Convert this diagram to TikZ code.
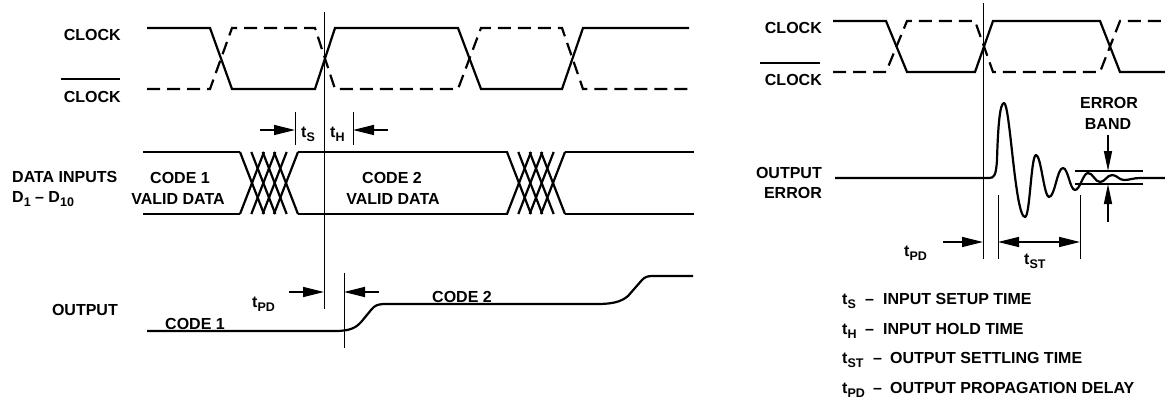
\documentclass[tikz,border=0pt]{standalone}
\usepackage{fontspec}
\setmainfont{Liberation Sans}
\usetikzlibrary{arrows.meta}
\newcommand{\sbs}[1]{\raisebox{-0.3em}{\fontsize{12.5}{12.5}\selectfont #1}}
\begin{document}
\begin{tikzpicture}[x=1pt,y=-1pt,
  lbl/.style={font=\fontsize{16}{18}\selectfont\bfseries, inner sep=0pt},
  wave/.style={line width=2.2pt, line join=miter},
  dwave/.style={wave, dash pattern=on 13pt off 7pt},
  hatch/.style={line width=2.2pt},
  thinline/.style={line width=1pt},
  dimarrow/.style={line width=1.6pt, -{Triangle[length=21pt,width=10pt]}},
  dimboth/.style={line width=1.6pt, {Triangle[length=21pt,width=10pt]}-{Triangle[length=21pt,width=10pt]}},
  bandarrow/.style={line width=1.4pt, -{Triangle[length=20pt,width=8pt]}}]
\useasboundingbox (0,0) rectangle (1165,400);

% ---------------- LEFT PANEL ----------------
\node[lbl, anchor=east] (clkL) at (121,35) {CLOCK};
\node[lbl, anchor=east] (clkbL) at (121,97) {CLOCK};
\draw[line width=1.6pt] (61,79) -- (120,79);
\node[lbl, anchor=west] (dataL) at (12,177) {DATA INPUTS};
\node[lbl, anchor=west] (dL) at (12,199) {D\sbs{1} -- D\sbs{10}};
\node[lbl, anchor=east] (outL) at (118,310) {OUTPUT};

% clock waveforms
\draw[wave] (147,28) -- (210,28) -- (232,89) -- (315,89) -- (335,28) -- (458,28) -- (481,89) -- (562,89) -- (583,28) -- (689,28);
\draw[dwave] (147,89) -- (210,89) -- (232,28) -- (315,28) -- (335,89) -- (458,89) -- (481,28) -- (562,28) -- (583,89) -- (689,89);

% data inputs
\draw[wave] (143,152) -- (240,152);
\draw[wave] (143,214) -- (240,214);
\draw[wave] (298,152) -- (508,152);
\draw[wave] (298,214) -- (508,214);
\draw[wave] (565,152) -- (694,152);
\draw[wave] (565,214) -- (694,214);
\foreach \s in {240,507}{
  \foreach \i in {0,...,3}{
    \draw[hatch] ({\s+\i*11.33},152) -- ++(24,62);
    \draw[hatch] ({\s+\i*11.33},214) -- ++(24,-62);
  }
}
\node[lbl] (c1) at (180,178) {CODE 1};
\node[lbl] (v1) at (178,199) {VALID DATA};
\node[lbl] (c2) at (392,178) {CODE 2};
\node[lbl] (v2) at (393,199) {VALID DATA};

% reference lines
\coordinate (refTop) at (324,12);
\coordinate (refBot) at (324,309);
\draw[thinline] (refTop) -- (refBot);
\coordinate (pdTop) at (344,273);
\coordinate (pdBot) at (344,348);
\draw[thinline] (pdTop) -- (pdBot);

% ts / tH
\coordinate (tsTickT) at (295,112);
\coordinate (tsTickB) at (295,145);
\coordinate (thTickT) at (353,112);
\coordinate (thTickB) at (353,145);
\draw[thinline] (tsTickT) -- (tsTickB);
\draw[thinline] (thTickT) -- (thTickB);
\coordinate (tsA) at (260,130);
\coordinate (tsB) at (295,130);
\coordinate (thA) at (388,130);
\coordinate (thB) at (353,130);
\draw[dimarrow] (tsA) -- (tsB);
\draw[dimarrow] (thA) -- (thB);
\node[lbl, anchor=base west] (tsL) at (301,137) {t\sbs{S}};
\node[lbl, anchor=base west] (thL) at (330,137) {t\sbs{H}};

% output
\draw[wave, line join=round] (147,331) -- (335,331) .. controls (350,331) and (356,328) .. (362,321) -- (371,310) .. controls (375,305) and (378,304) .. (386,304) -- (597,304) .. controls (612,304) and (621,302) .. (628,296) -- (642,280) .. controls (645,277) and (647,276) .. (653,276) -- (693,276);
\node[lbl] (oc1) at (195,324) {CODE 1};
\node[lbl] (oc2) at (462,297) {CODE 2};
\coordinate (pdA) at (289,292);
\coordinate (pdB) at (324,292);
\coordinate (pdC) at (379,292);
\coordinate (pdD) at (344,292);
\draw[dimarrow] (pdA) -- (pdB);
\draw[dimarrow] (pdC) -- (pdD);
\node[lbl, anchor=base west] (tpdL) at (252,307) {t\sbs{PD}};

% ---------------- RIGHT PANEL ----------------
\node[lbl, anchor=east] (clkR) at (822,28) {CLOCK};
\node[lbl, anchor=east] (clkbR) at (822,80) {CLOCK};
\draw[line width=1.6pt] (760,63) -- (820,63);
\node[lbl, anchor=east] (oeR1) at (822,173) {OUTPUT};
\node[lbl, anchor=east] (oeR2) at (822,193) {ERROR};

\draw[wave] (833,21) -- (886,21) -- (907,72) -- (975,72) -- (993,21) -- (1100,21) -- (1120,72) -- (1166,72);
\draw[dwave] (833,72) -- (886,72) -- (907,21) -- (975,21) -- (993,72) -- (1100,72) -- (1120,21) -- (1166,21);

\coordinate (rrefTop) at (983,3);
\coordinate (rrefBot) at (983,259);
\draw[thinline] (rrefTop) -- (rrefBot);

% output error waveform
\draw[wave, line join=round] (835,178) -- (989,178) .. controls (994,178) and (996,176) .. (997,160)
  .. controls (998,125) and (1000,103) .. (1004,103)
  .. controls (1010,103) and (1015,217) .. (1025,217)
  .. controls (1030,217) and (1031,155) .. (1036,155)
  .. controls (1041,155) and (1044,197) .. (1049,197)
  .. controls (1055,197) and (1057,168) .. (1063,168)
  .. controls (1068,168) and (1070,190) .. (1075,190)
  .. controls (1080,190) and (1083,173) .. (1088,173)
  .. controls (1093,173) and (1095,182) .. (1100,182)
  .. controls (1105,182) and (1107,175) .. (1112,175)
  .. controls (1117,175) and (1119,180) .. (1124,180)
  .. controls (1130,180) and (1133,178) .. (1140,178) -- (1166,178);

% error band
\draw[line width=1.6pt] (1075,171) -- (1143,171);
\draw[line width=1.6pt] (1075,184) -- (1143,184);
\coordinate (ebA) at (1108,135);
\coordinate (ebB) at (1108,171);
\coordinate (ebC) at (1108,222);
\coordinate (ebD) at (1108,184);
\draw[bandarrow] (ebA) -- (ebB);
\draw[bandarrow] (ebC) -- (ebD);
\node[lbl] (errL) at (1109,103) {ERROR};
\node[lbl] (bandL) at (1108,124) {BAND};

% tPD / tST
\coordinate (stTickLT) at (998,195);
\coordinate (stTickLB) at (998,259);
\coordinate (stTickRT) at (1080,195);
\coordinate (stTickRB) at (1080,259);
\draw[thinline] (stTickLT) -- (stTickLB);
\draw[thinline] (stTickRT) -- (stTickRB);
\coordinate (rpdA) at (943,242);
\coordinate (rpdB) at (983,242);
\draw[dimarrow] (rpdA) -- (rpdB);
\coordinate (stA) at (998,242);
\coordinate (stB) at (1080,242);
\draw[dimboth] (stA) -- (stB);
\node[lbl, anchor=base west] (rtpdL) at (904,256) {t\sbs{PD}};
\node[lbl, anchor=base west] (rtstL) at (1024,264) {t\sbs{ST}};

% legend
\node[lbl, anchor=base west] (lg1t) at (842,304) {t\sbs{S}};
\node[lbl, anchor=base west] (lg1d) at (865,304) {--};
\node[lbl, anchor=base west] (lg1x) at (883,304) {INPUT SETUP TIME};
\node[lbl, anchor=base west] (lg2t) at (842,334) {t\sbs{H}};
\node[lbl, anchor=base west] (lg2d) at (865,334) {--};
\node[lbl, anchor=base west] (lg2x) at (883,334) {INPUT HOLD TIME};
\node[lbl, anchor=base west] (lg3t) at (842,363) {t\sbs{ST}};
\node[lbl, anchor=base west] (lg3d) at (873,363) {--};
\node[lbl, anchor=base west] (lg3x) at (890,363) {OUTPUT SETTLING TIME};
\node[lbl, anchor=base west] (lg4t) at (842,393) {t\sbs{PD}};
\node[lbl, anchor=base west] (lg4d) at (873,393) {--};
\node[lbl, anchor=base west] (lg4x) at (890,393) {OUTPUT PROPAGATION DELAY};
\end{tikzpicture}
\end{document}
